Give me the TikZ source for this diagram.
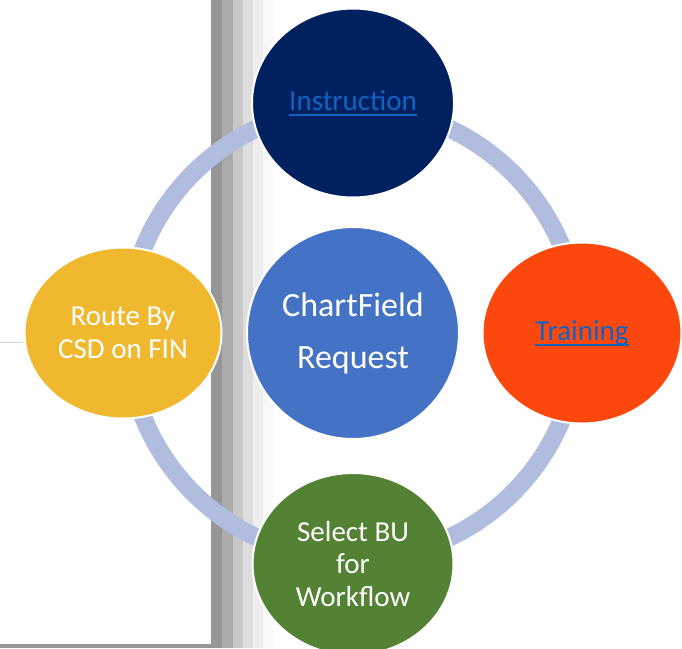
\documentclass[tikz,border=0pt]{standalone}
\usepackage{fontspec}
\setmainfont{Carlito}
\usetikzlibrary{shapes.geometric}

\definecolor{ringblue}{RGB}{176,189,222}
\definecolor{navy}{RGB}{0,32,96}
\definecolor{flame}{RGB}{252,72,12}
\definecolor{midblue}{RGB}{68,114,196}
\definecolor{amber}{RGB}{240,184,46}
\definecolor{leaf}{RGB}{84,130,53}
\definecolor{linkblue}{RGB}{17,99,194}
\definecolor{shadeA}{RGB}{150,150,150}
\definecolor{shadeB}{RGB}{171,171,171}
\definecolor{shadeC}{RGB}{200,200,200}
\definecolor{shadeD}{RGB}{221,221,221}
\definecolor{shadeE}{RGB}{238,238,238}
\definecolor{shadeF}{RGB}{249,249,249}
\definecolor{stubgray}{RGB}{210,210,210}

% underlined hyperlink-style text
\newcommand\linktext[1]{\setbox0\hbox{#1}\rlap{\rule[-5.5pt]{\wd0}{1.7pt}}\box0}

\tikzset{
  blob/.style={ellipse, draw=white, line width=2pt, inner sep=0pt,
    text=white, align=center, font=\fontsize{29}{32.5}\selectfont},
  hub/.style={blob, font=\fontsize{34}{52}\selectfont},
  linklabel/.style={text=linkblue},
  loop/.style={draw=ringblue, line width=18pt}
}

\begin{document}
\begin{tikzpicture}[x=1pt,y=-1pt]
  \useasboundingbox (0,0) rectangle (682,648);
  \fill[white] (0,0) rectangle (682,648);

  % page edge shadow
  \fill[shadeA] (211,0) rectangle (222,648);
  \fill[shadeB] (222,0) rectangle (233,648);
  \fill[shadeC] (233,0) rectangle (243,648);
  \fill[shadeD] (243,0) rectangle (253,648);
  \fill[shadeE] (253,0) rectangle (263,648);
  \fill[shadeF] (263,0) rectangle (273,648);
  \fill[shadeA] (0,644) rectangle (211,648);

  % hub and ring
  \coordinate (ringc) at (353,333);
  \draw[loop] (ringc) circle[radius=226];

  \coordinate (stub) at (0,342.5);

  \node[hub, fill=midblue, minimum width=212pt, minimum height=212pt]
    (hubnode) at (353,333) {ChartField\\Request};
  \node[blob, fill=navy, linklabel, minimum width=202pt, minimum height=189pt]
    (instr) at (353,103) {\linktext{Instruction}};
  \node[blob, fill=flame, linklabel, minimum width=199pt, minimum height=181pt]
    (train) at (582,333) {\linktext{Training}};
  \node[blob, fill=leaf, minimum width=201pt, minimum height=182pt]
    (select) at (353,564) {Select BU\\for\\Workflow};

  \draw[stubgray, line width=1.2pt] (stub) -- (stub -| 23,0);
  \node[blob, fill=amber, minimum width=197pt, minimum height=171pt]
    (route) at (123,333) {Route By\\CSD on FIN};
\end{tikzpicture}
\end{document}
